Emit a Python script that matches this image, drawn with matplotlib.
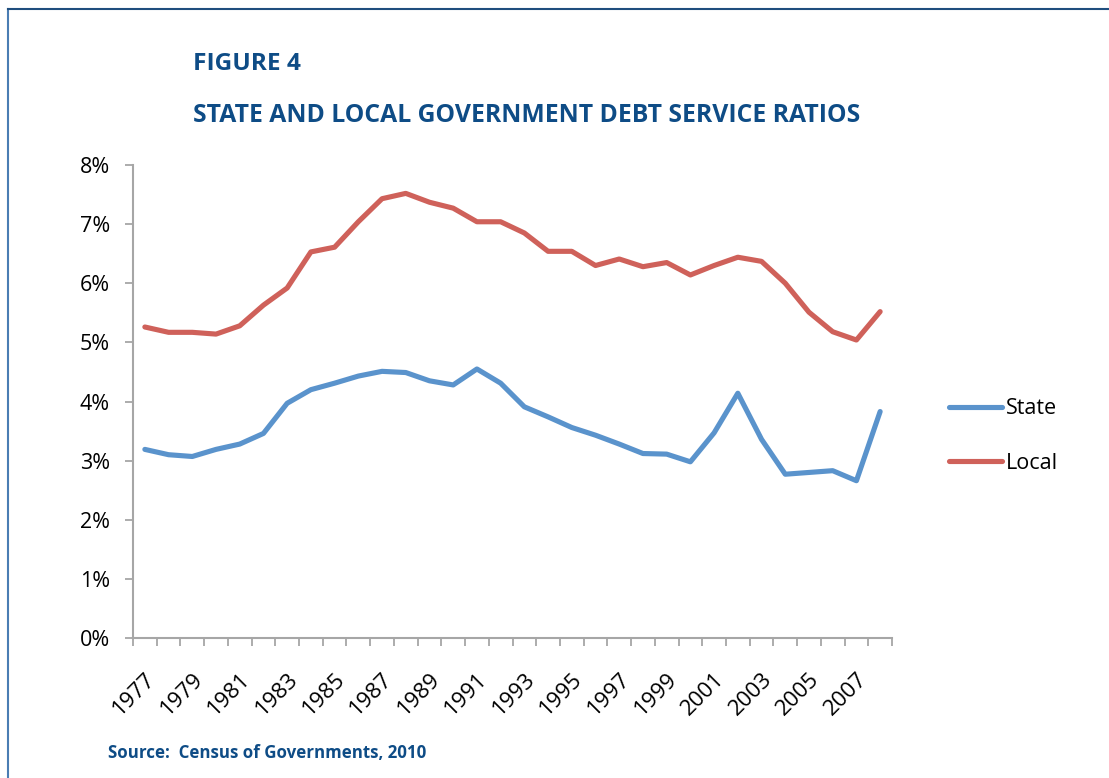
import matplotlib
matplotlib.use("Agg")
import matplotlib.pyplot as plt
from matplotlib.ticker import FixedLocator, FuncFormatter, MultipleLocator
from matplotlib.lines import Line2D

years = list(range(1977, 2009))
state = [3.19, 3.10, 3.07, 3.19, 3.28, 3.46, 3.97, 4.20, 4.31, 4.43, 4.51, 4.49,
         4.35, 4.28, 4.55, 4.31, 3.91, 3.74, 3.56, 3.43, 3.28, 3.12, 3.11, 2.98,
         3.47, 4.14, 3.36, 2.77, 2.80, 2.83, 2.66, 3.83]
local = [5.26, 5.17, 5.17, 5.14, 5.28, 5.63, 5.92, 6.53, 6.61, 7.04, 7.43, 7.52,
         7.37, 7.27, 7.04, 7.04, 6.85, 6.54, 6.54, 6.30, 6.41, 6.28, 6.35, 6.14,
         6.30, 6.44, 6.37, 6.00, 5.51, 5.18, 5.04, 5.52]
series_names = ["State", "Local"]
title1 = "FIGURE 4"
title2 = "STATE AND LOCAL GOVERNMENT DEBT SERVICE RATIOS"
source = "Source:  Census of Governments, 2010"

BLUE = "#5A93CC"
RED = "#CF615A"
NAVY = "#0E4C86"
SPINE = "#A6A6A6"
FONT = "Open Sans"

W, H = 1109, 778
fig = plt.figure(figsize=(W / 100, H / 100), dpi=100)
ax = fig.add_axes([133 / W, 1 - 638 / H, (892 - 133) / W, (638 - 165) / H])

x = [i + 0.5 for i in range(len(years))]
ax.plot(x, [v / 100 for v in state], color=BLUE, lw=3.7, solid_joinstyle="round",
        solid_capstyle="round", label=series_names[0])
ax.plot(x, [v / 100 for v in local], color=RED, lw=3.7, solid_joinstyle="round",
        solid_capstyle="round", label=series_names[1])

ax.set_xlim(0, len(years))
ax.set_ylim(0, 0.08)
ax.yaxis.set_major_locator(MultipleLocator(0.01))
ax.yaxis.set_major_formatter(FuncFormatter(lambda v, p: f"{v * 100:.0f}%"))

ax.xaxis.set_major_locator(FixedLocator(list(range(len(years) + 1))))
ax.xaxis.set_major_formatter(FuncFormatter(lambda v, p: ""))
lab_pos = [i + 0.5 for i, y in enumerate(years) if y % 2 == 1]
lab_txt = [str(y) for y in years if y % 2 == 1]
ax.set_xticks(lab_pos, minor=True)
ax.set_xticklabels(lab_txt, minor=True, rotation=45, ha="right", va="top",
                   rotation_mode="anchor", fontsize=16, family=FONT)
ax.tick_params(axis="x", which="minor", length=0, pad=22)
ax.tick_params(axis="x", which="major", length=5.5, width=1.3, color=SPINE, direction="out")
ax.tick_params(axis="y", which="major", length=5.5, width=1.3, color=SPINE, direction="out",
               pad=11, labelsize=15.5)
for lbl in ax.get_yticklabels():
    lbl.set_family(FONT)

for s in ["top", "right"]:
    ax.spines[s].set_visible(False)
for s in ["left", "bottom"]:
    ax.spines[s].set_color(SPINE)
    ax.spines[s].set_linewidth(1.5)

handles = [Line2D([], [], color=BLUE, lw=3.7, solid_capstyle="round"),
           Line2D([], [], color=RED, lw=3.7, solid_capstyle="round")]
fig.legend(handles, series_names, loc="center left",
           bbox_to_anchor=(940 / W, 1 - 436 / H), frameon=False,
           prop={"family": FONT, "size": 15.5}, handlelength=2.5,
           handletextpad=0.15, labelspacing=1.55, borderaxespad=0)

fig.text(193 / W, 1 - 64 / H, title1, color=NAVY, fontsize=17.6, fontweight="bold",
         family=FONT, va="center", ha="left")
fig.text(193 / W, 1 - 115 / H, title2, color=NAVY, fontsize=17.8, fontweight="bold",
         family=FONT, va="center", ha="left")
fig.text(108 / W, 1 - 753 / H, source, color=NAVY, fontsize=12.2, fontweight="bold",
         family=FONT, va="center", ha="left")

# page frame (left and top edges)
fig.add_artist(Line2D([7.5 / W, 7.5 / W], [0, 1 - 9 / H], transform=fig.transFigure,
                      color="#4A7DB3", lw=1.5))
fig.add_artist(Line2D([7.5 / W, 1], [1 - 9 / H, 1 - 9 / H], transform=fig.transFigure,
                      color="#1F4E7E", lw=1.5))

fig.savefig("out.png", dpi=100)
